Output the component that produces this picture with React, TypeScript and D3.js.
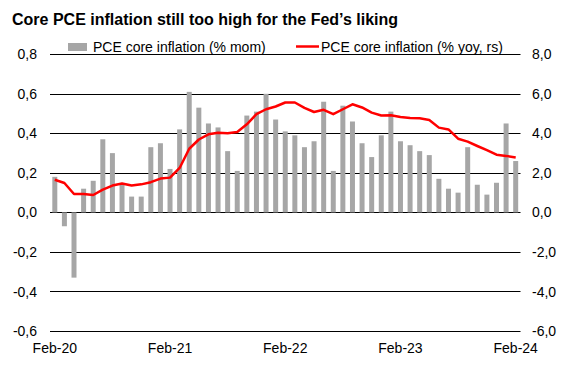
import React from 'react';
import * as d3 from 'd3';

// monthly, Feb-20 .. Feb-24
const months: Date[] = d3.timeMonths(new Date(2020, 1, 1), new Date(2024, 2, 1));
const tickLabels = ['Feb-20', 'Feb-21', 'Feb-22', 'Feb-23', 'Feb-24'];

// PCE core inflation, % mom (left axis)
const momValues = [
    0.18, -0.07, -0.33, 0.12, 0.16, 0.37, 0.30, 0.14, 0.08, 0.08, 0.33, 0.35,
    0.22, 0.42, 0.61, 0.53, 0.45, 0.43, 0.31, 0.21, 0.49, 0.51, 0.60, 0.47,
    0.41, 0.39, 0.33, 0.36, 0.56, 0.21, 0.54, 0.46, 0.35, 0.28, 0.39, 0.51,
    0.36, 0.34, 0.31, 0.29, 0.17, 0.12, 0.10, 0.33, 0.14, 0.09, 0.15, 0.45,
    0.26
];

// PCE core inflation, % yoy (right axis)
const yoyValues = [
    1.65, 1.49, 0.93, 0.93, 0.88, 1.15, 1.36, 1.46, 1.36, 1.42, 1.53, 1.71,
    1.76, 2.25, 3.22, 3.69, 3.95, 4.03, 4.00, 4.07, 4.46, 4.97, 5.22, 5.36,
    5.56, 5.56, 5.29, 5.08, 5.19, 4.97, 5.22, 5.47, 5.31, 5.05, 4.90, 4.92,
    4.83, 4.78, 4.76, 4.68, 4.29, 4.20, 3.73, 3.58, 3.36, 3.15, 2.92, 2.86,
    2.78
];

const leftTicks = [0.8, 0.6, 0.4, 0.2, 0, -0.2, -0.4, -0.6];
const rightTicks = [8, 6, 4, 2, 0, -2, -4, -6];

const width = 574;
const height = 372;
const plotLeft = 50;
const plotRight = 520.5;
const plotTop = 54.3;
const plotBottom = 331;

const fmtLabel = d3.timeFormat('%b-%y');
const fmtComma = (v: number) => v.toFixed(1).replace('.', ',');

const font = '"Liberation Sans", Arial, sans-serif';

const App = () => {
    const keys = months.map((m) => fmtLabel(m));

    const x = d3.scaleBand<string>()
        .domain(keys)
        .range([plotLeft, plotRight])
        .paddingInner(0.48)
        .paddingOuter(0.24);

    const yLeft = d3.scaleLinear().domain([-0.6, 0.8]).range([plotBottom, plotTop]);
    const yRight = d3.scaleLinear().domain([-6, 8]).range([plotBottom, plotTop]);

    const cx = (k: string) => (x(k) as number) + x.bandwidth() / 2;

    const yoyLine = d3.line<number>()
        .x((_, i) => cx(keys[i]))
        .y((d) => yRight(d))
        .curve(d3.curveLinear);

    return (
        <svg
            width={width}
            height={height}
            style={{ position: 'absolute', left: 0, top: 0, background: '#fff' }}
            fontFamily={font}
        >
            <text x={12} y={25} fontSize={16} fontWeight="bold" fill="#000">
                Core PCE inflation still too high for the Fed’s liking
            </text>

            {/* gridlines */}
            {leftTicks.map((t) => (
                <line
                    key={t}
                    x1={plotLeft}
                    x2={plotRight}
                    y1={Math.round(yLeft(t)) + 0.5}
                    y2={Math.round(yLeft(t)) + 0.5}
                    stroke="#000"
                    strokeWidth={1}
                />
            ))}

            {/* left axis labels */}
            {leftTicks.map((t) => (
                <text
                    key={t}
                    x={37}
                    y={yLeft(t)}
                    dy="0.36em"
                    textAnchor="end"
                    fontSize={14}
                    fill="#000"
                >
                    {fmtComma(t)}
                </text>
            ))}

            {/* right axis labels */}
            {rightTicks.map((t) => (
                <text
                    key={t}
                    x={532}
                    y={yRight(t)}
                    dy="0.36em"
                    textAnchor="start"
                    fontSize={14}
                    fill="#000"
                >
                    {fmtComma(t)}
                </text>
            ))}

            {/* bars */}
            {momValues.map((v, i) => (
                <rect
                    key={i}
                    x={x(keys[i])}
                    width={x.bandwidth()}
                    y={yLeft(Math.max(0, v))}
                    height={Math.abs(yLeft(v) - yLeft(0))}
                    fill="#a6a6a6"
                />
            ))}

            {/* yoy line */}
            <path
                d={yoyLine(yoyValues) || ''}
                fill="none"
                stroke="#ff0000"
                strokeWidth={2.5}
                strokeLinejoin="round"
            />

            {/* x labels */}
            {tickLabels.map((t) => (
                <text
                    key={t}
                    x={cx(t)}
                    y={353}
                    textAnchor="middle"
                    fontSize={14}
                    fill="#000"
                >
                    {t}
                </text>
            ))}

            {/* legend */}
            <rect x={68} y={43} width={19} height={8} fill="#a6a6a6" />
            <text x={93} y={52} fontSize={14} fill="#000">PCE core inflation (% mom)</text>
            <line x1={296} x2={319} y1={46.5} y2={46.5} stroke="#ff0000" strokeWidth={2.5} />
            <text x={321} y={52} fontSize={14} fill="#000">PCE core inflation (% yoy, rs)</text>
        </svg>
    );
};

export default App;
